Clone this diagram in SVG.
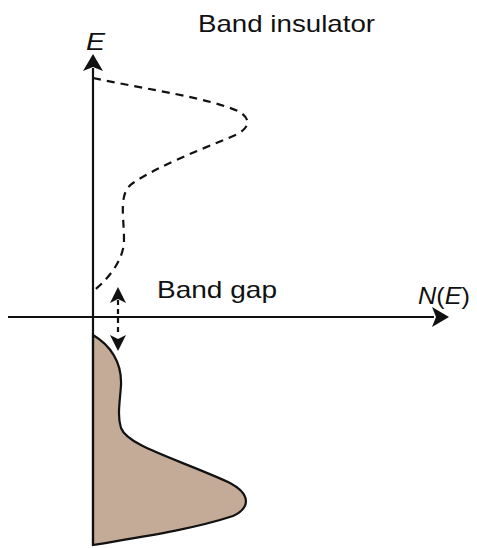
<svg xmlns="http://www.w3.org/2000/svg" width="477" height="548" viewBox="0 0 477 548">
<defs>
<style>
.lbl{font-family:"Liberation Sans",Arial,sans-serif;font-size:24px;fill:#111}
.ax{stroke:#111;stroke-width:2.2;fill:none}
.ah{fill:#111;stroke:none}
</style>
</defs>
<rect width="477" height="548" fill="#fff"/>
<g id="valence-band">
<path d="M93,335 C110,345 122,362 121,385 C120,402 117,415 121,428 C128,446 175,458 228,482 C252,494 250,508 233,516 C190,530 140,537 93,545 Z" fill="#c4ab98" stroke="#111" stroke-width="2.2"/>
</g>
<g id="conduction-band">
<path d="M93,78 C150,90 210,98 240,112 C252,120 248,128 238,134 C200,150 160,165 133,183 C118,193 124,215 124,240 C124,262 105,282 92,292" fill="none" stroke="#111" stroke-width="2.2" stroke-dasharray="8,6"/>
</g>
<g id="connectors">
<line class="ax" x1="93" y1="545" x2="93" y2="68"/>
<polygon class="ah" points="93,54 83,71 93,67 103,71"/>
<line class="ax" x1="8" y1="317" x2="434" y2="317"/>
<polygon class="ah" points="449,317 432,307 436,317 432,327"/>
<line x1="118" y1="300" x2="118" y2="336" stroke="#111" stroke-width="2.2" stroke-dasharray="5,4"/>
<polygon class="ah" points="118,287 110,303 118,299 126,303"/>
<polygon class="ah" points="118,351 110,335 118,339 126,335"/>
</g>
<g id="labels">
<text class="lbl" x="198" y="32" textLength="177" lengthAdjust="spacingAndGlyphs">Band insulator</text>
<text class="lbl" x="86" y="50" font-style="italic" textLength="19" lengthAdjust="spacingAndGlyphs">E</text>
<text class="lbl" x="157" y="298" textLength="120" lengthAdjust="spacingAndGlyphs">Band gap</text>
<text class="lbl" x="418" y="304" textLength="52" lengthAdjust="spacingAndGlyphs"><tspan font-style="italic">N</tspan>(<tspan font-style="italic">E</tspan>)</text>
</g>
</svg>
